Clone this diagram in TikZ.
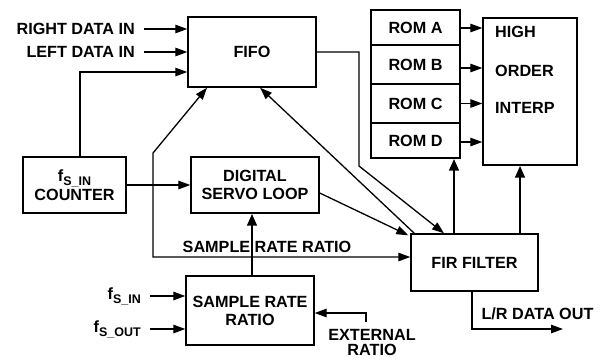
\documentclass[tikz,border=0pt]{standalone}
\usepackage{fontspec}
\setmainfont{Liberation Sans}
\usetikzlibrary{arrows.meta}
\newcommand{\fsub}[1]{f\raisebox{-0.26em}{\fontsize{12.5}{12.5}\selectfont #1}}
\tikzset{
  every node/.style={font=\fontsize{16.2}{18}\selectfont\bfseries},
  box/.style={draw, line width=1.4pt, inner sep=0pt, align=center},
  lbl/.style={inner sep=0pt, align=center},
  arr/.style={line width=1.3pt, -{Triangle[length=12pt,width=8.5pt]}},
  biarr/.style={line width=1.3pt, {Triangle[length=12pt,width=8.5pt]}-{Triangle[length=12pt,width=8.5pt]}},
  thickarr/.style={line width=2.7pt, -{Triangle[length=12pt,width=9.5pt]}},
}
\begin{document}
\begin{tikzpicture}[x=1pt,y=-1pt]
\useasboundingbox (0,0) rectangle (602,360);
% boxes
\node[box, minimum width=128pt, minimum height=70pt] (fifo) at (252,52) {FIFO};
\node[box, minimum width=103pt, minimum height=56pt] (counter) at (74.5,185) {\fsub{S\_IN}\\[1pt]COUNTER};
\node[box, minimum width=128pt, minimum height=56pt] (servo) at (255,185) {DIGITAL\\SERVO LOOP};
\node[box, minimum width=128pt, minimum height=69pt] (srr) at (250,310.5) {SAMPLE RATE\\RATIO};
\node[box, minimum width=127pt, minimum height=57pt] (fir) at (474.5,262.5) {FIR FILTER};
\node[box, minimum width=89pt, minimum height=35pt] (romA) at (415.5,27.5) {ROM A};
\node[box, minimum width=89pt, minimum height=39pt] (romB) at (415.5,64.5) {ROM B};
\node[box, minimum width=89pt, minimum height=39pt] (romC) at (415.5,103.5) {ROM C};
\node[box, minimum width=89pt, minimum height=35pt] (romD) at (415.5,140.5) {ROM D};
\node[box, minimum width=94pt, minimum height=147pt] (hoi) at (530,91.5) {};
\node[lbl, anchor=west] (high) at (495,32) {HIGH};
\node[lbl, anchor=west] (order) at (495,71) {ORDER};
\node[lbl, anchor=west] (interp) at (495,108) {INTERP};
% text labels
\node[lbl, anchor=east] (rdi) at (135,29) {RIGHT DATA IN};
\node[lbl, anchor=east] (ldi) at (135,52) {LEFT DATA IN};
\node[lbl, anchor=east] (fsin) at (141,296) {\fsub{S\_IN}};
\node[lbl, anchor=east] (fsout) at (141,329) {\fsub{S\_OUT}};
\node[lbl] (srrlbl) at (267,247) {SAMPLE RATE RATIO};
\node[lbl] (ext) at (372,335) {EXTERNAL};
\node[lbl] (extr) at (372,350) {RATIO};
\node[lbl] (lrout) at (537.5,314) {L/R DATA OUT};
% coordinates
\coordinate (rdstart) at (144,29);
\coordinate (ldstart) at (144,52);
\coordinate (fsinstart) at (150,296);
\coordinate (fsoutstart) at (150,329);
\coordinate (bend) at (153,153);
\coordinate (corner) at (153,257);
\coordinate (fifoout) at (359,52);
\coordinate (fifodown) at (359,166);
\coordinate (extstart) at (366,322);
\coordinate (lrend) at (563,329);
% connectors
\draw[arr] (rdstart) -- (rdstart -| fifo.west);
\draw[arr] (ldstart) -- (ldstart -| fifo.west);
\draw[arr] ([xshift=5.5pt]counter.north) |- ([yshift=-20pt]fifo.west);
\draw[arr] (counter.east) -- (servo.west);
\draw[biarr] ([xshift=-45pt]fifo.south) -- (bend) -- (corner) -- (corner -| fir.west);
\draw[thickarr] ([xshift=2pt]srr.north) -- ([xshift=2pt]srr.north |- servo.south);
\draw[arr] (fsinstart) -- (fsinstart -| srr.west);
\draw[arr] (fsoutstart) -- (fsoutstart -| srr.west);
\draw[arr] (extstart) |- ([yshift=-2.5pt]srr.east);
\draw[arr] ([yshift=-8pt]servo.east) -- ([xshift=-2pt,yshift=-2pt]fir.north west);
\draw[arr] (fifo.east) -- (fifoout) -- (fifodown) -- ([xshift=-30.5pt]fir.north);
\draw[arr] ([xshift=4pt]fir.north west) -- ([xshift=8pt]fifo.south);
\draw[thickarr] ([xshift=-20.5pt]fir.north) -- ([xshift=-20.5pt]fir.north |- romD.south);
\draw[thickarr] ([xshift=45.5pt]fir.north) -- ([xshift=45.5pt]fir.north |- hoi.south);
\draw[arr] ([yshift=-0.5pt]romA.east) -- ([yshift=-0.5pt]romA.east -| hoi.west);
\draw[arr] ([yshift=-3.5pt]romB.east) -- ([yshift=-3.5pt]romB.east -| hoi.west);
\draw[arr] (romC.east) -- (romC.east -| hoi.west);
\draw[arr] ([yshift=-1.5pt]romD.east) -- ([yshift=-1.5pt]romD.east -| hoi.west);
\draw[arr] ([xshift=-2.5pt]fir.south) |- (lrend);
\end{tikzpicture}
\end{document}
